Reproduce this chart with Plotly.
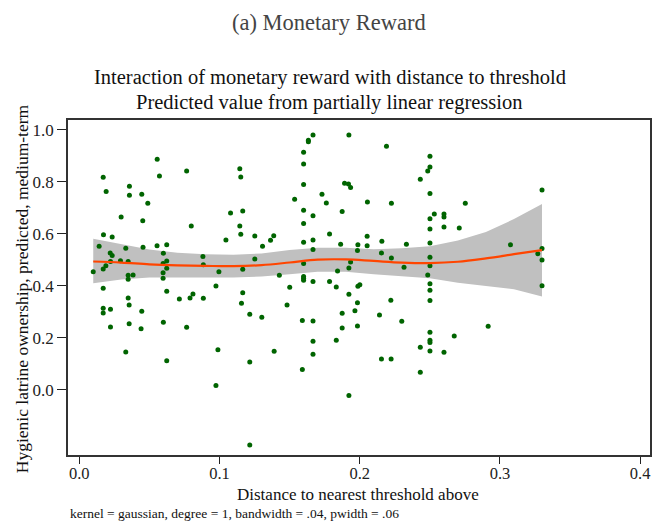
import plotly.graph_objects as go

# Scatter data: distance to nearest threshold (x) and predicted ownership (y)
dist = [0.0556, 0.0766, 0.0171, 0.0572, 0.0358, 0.0192, 0.0358, 0.0446, 0.0489, 0.0299,
        0.0453, 0.0799, 0.0173, 0.0235, 0.0142, 0.0332, 0.0455, 0.0555, 0.0624, 0.0600,
        0.0221, 0.0235, 0.0882, 0.0223, 0.0294, 0.0349, 0.0190, 0.0171, 0.0598, 0.0624,
        0.0885, 0.0100, 0.0624, 0.0598, 0.0996, 0.0349, 0.0384, 0.0349, 0.0598, 0.0171,
        0.0624, 0.0811, 0.0975, 0.0714, 0.0790, 0.0885, 0.0349, 0.0356, 0.0171, 0.0223,
        0.0171, 0.0446, 0.0356, 0.0600, 0.0223, 0.0441, 0.0766, 0.0332, 0.0624, 0.0989,
        0.0975, 0.1667, 0.1923, 0.1634, 0.1634, 0.1600, 0.1600, 0.1145, 0.1152, 0.1600,
        0.1892, 0.1920, 0.1935, 0.1731, 0.1536, 0.1762, 0.2055, 0.1079, 0.1166, 0.1600,
        0.1667, 0.1875, 0.1145, 0.1600, 0.1152, 0.1252, 0.1387, 0.1785, 0.1046, 0.1364,
        0.2053, 0.1667, 0.1600, 0.1307, 0.1864, 0.1987, 0.2053, 0.1667, 0.1984, 0.1252,
        0.1935, 0.1600, 0.1166, 0.1842, 0.1923, 0.1427, 0.1600, 0.1600, 0.1600, 0.1667,
        0.1785, 0.1501, 0.1833, 0.1987, 0.2001, 0.1166, 0.1923, 0.1157, 0.1482, 0.1216,
        0.1302, 0.1591, 0.1667, 0.1875, 0.1984, 0.1966, 0.1875, 0.1984, 0.1667, 0.1833,
        0.1390, 0.1667, 0.1216, 0.1591, 0.1923, 0.1216, 0.2191, 0.2501, 0.2501, 0.2485,
        0.2432, 0.2501, 0.2226, 0.2753, 0.2532, 0.2601, 0.2601, 0.2501, 0.2501, 0.2601,
        0.2710, 0.2158, 0.2333, 0.2501, 0.2155, 0.2226, 0.2501, 0.3075, 0.2316, 0.2501,
        0.2485, 0.2501, 0.2501, 0.2501, 0.2222, 0.2141, 0.2300, 0.2916, 0.2501, 0.2674,
        0.2501, 0.2501, 0.2432, 0.2501, 0.2601, 0.2155, 0.2224, 0.2432, 0.3300, 0.3300,
        0.3270, 0.3300, 0.3300]
pred = [0.887, 0.842, 0.818, 0.823, 0.783, 0.763, 0.749, 0.753, 0.718, 0.665,
        0.651, 0.630, 0.597, 0.588, 0.553, 0.545, 0.549, 0.555, 0.558, 0.526,
        0.527, 0.517, 0.513, 0.494, 0.497, 0.494, 0.478, 0.465, 0.486, 0.496,
        0.481, 0.455, 0.468, 0.451, 0.455, 0.441, 0.442, 0.426, 0.430, 0.391,
        0.380, 0.369, 0.400, 0.350, 0.354, 0.353, 0.354, 0.327, 0.314, 0.310,
        0.296, 0.303, 0.255, 0.260, 0.242, 0.235, 0.241, 0.146, 0.112, 0.155,
        0.017, 0.980, 0.980, 0.960, 0.954, 0.914, 0.869, 0.851, 0.819, 0.790,
        0.795, 0.792, 0.778, 0.753, 0.733, 0.719, 0.723, 0.680, 0.688, 0.691,
        0.670, 0.686, 0.630, 0.640, 0.599, 0.592, 0.593, 0.600, 0.577, 0.576,
        0.591, 0.577, 0.568, 0.553, 0.560, 0.558, 0.555, 0.540, 0.536, 0.504,
        0.492, 0.486, 0.464, 0.457, 0.469, 0.441, 0.436, 0.430, 0.422, 0.417,
        0.417, 0.395, 0.396, 0.399, 0.405, 0.374, 0.368, 0.333, 0.327, 0.291,
        0.280, 0.267, 0.265, 0.295, 0.335, 0.305, 0.238, 0.246, 0.187, 0.191,
        0.149, 0.137, 0.108, 0.079, -0.021, -0.212, 0.937, 0.899, 0.857, 0.842,
        0.810, 0.755, 0.718, 0.718, 0.677, 0.677, 0.665, 0.658, 0.619, 0.627,
        0.623, 0.572, 0.560, 0.565, 0.527, 0.507, 0.510, 0.558, 0.472, 0.478,
        0.442, 0.408, 0.383, 0.344, 0.345, 0.288, 0.264, 0.245, 0.222, 0.208,
        0.191, 0.183, 0.164, 0.150, 0.145, 0.119, 0.119, 0.068, 0.769, 0.544,
        0.524, 0.500, 0.401]

# Local polynomial fit and confidence band
grid = [0.010, 0.030, 0.050, 0.070, 0.090, 0.110, 0.130, 0.150, 0.170,
        0.190, 0.210, 0.230, 0.250, 0.270, 0.290, 0.310, 0.330]
fit = [0.494, 0.490, 0.483, 0.479, 0.477, 0.476, 0.480, 0.490, 0.501,
       0.502, 0.496, 0.490, 0.488, 0.493, 0.506, 0.522, 0.538]
upper = [0.581, 0.560, 0.540, 0.528, 0.522, 0.520, 0.525, 0.538, 0.547,
         0.547, 0.541, 0.545, 0.553, 0.575, 0.607, 0.657, 0.715]
lower = [0.410, 0.425, 0.432, 0.432, 0.432, 0.432, 0.436, 0.445, 0.455,
         0.455, 0.445, 0.437, 0.430, 0.412, 0.400, 0.387, 0.359]

xticks = [0.0, 0.1, 0.2, 0.3, 0.4]
yticks = [0.0, 0.2, 0.4, 0.6, 0.8, 1.0]

SERIF = "Liberation Serif"

fig = go.Figure()
fig.add_trace(go.Scatter(x=grid + grid[::-1], y=upper + lower[::-1], fill="toself",
                         fillcolor="#C0C0C0", line=dict(width=0), mode="lines",
                         hoverinfo="skip", showlegend=False))
fig.add_trace(go.Scatter(x=dist, y=pred, mode="markers",
                         marker=dict(color="#006400", size=5), showlegend=False))
fig.add_trace(go.Scatter(x=grid, y=fit, mode="lines", line=dict(color="#FF4500", width=2.2),
                         line_shape="spline", showlegend=False))

axis_common = dict(showline=True, mirror=True, linecolor="#333333", linewidth=1.5,
                   tickwidth=1.3, tickcolor="#222222", ticks="outside",
                   showgrid=False, zeroline=False, tickformat=".1f")

fig.update_layout(
    width=655, height=521,
    margin=dict(l=68, r=3, t=120, b=66),
    paper_bgcolor="white", plot_bgcolor="white",
    xaxis=dict(range=[-0.008, 0.407], tickvals=xticks, ticklen=7, ticklabelstandoff=-5,
               tickfont=dict(family=SERIF, size=16.5, color="#222222"), **axis_common),
    yaxis=dict(range=[-0.25, 1.038], tickvals=yticks, ticklen=9,
               tickfont=dict(family=SERIF, size=17, color="#222222"), **axis_common),
    annotations=[
        dict(text="(a) Monetary Reward", xref="paper", yref="paper", x=0.4486, y=1.2925,
             xanchor="center", yanchor="middle", showarrow=False,
             font=dict(family=SERIF, size=22.5, color="#444444")),
        dict(text="Interaction of monetary reward with distance to threshold",
             xref="paper", yref="paper", x=0.450, y=1.128, xanchor="center", yanchor="middle",
             showarrow=False, font=dict(family=SERIF, size=20.5, color="#111111")),
        dict(text="Predicted value from partially linear regression",
             xref="paper", yref="paper", x=0.450, y=1.051, xanchor="center", yanchor="middle",
             showarrow=False, font=dict(family=SERIF, size=20.5, color="#111111")),
        dict(text="Hygienic latrine ownership, predicted, medium-term",
             xref="paper", yref="paper", x=-0.079, y=0.495, xanchor="center", yanchor="middle",
             textangle=-90, showarrow=False, font=dict(family=SERIF, size=17.5, color="#111111")),
        dict(text="Distance to nearest threshold above",
             xref="paper", yref="paper", x=0.499, y=-0.118, xanchor="center", yanchor="middle",
             showarrow=False, font=dict(family=SERIF, size=17, color="#111111")),
        dict(text="kernel = gaussian, degree = 1, bandwidth = .04, pwidth = .06",
             xref="paper", yref="paper", x=0.0, y=-0.176, xanchor="left", yanchor="middle",
             showarrow=False, font=dict(family=SERIF, size=13.5, color="#111111")),
    ],
)

fig.write_html("out.html")
